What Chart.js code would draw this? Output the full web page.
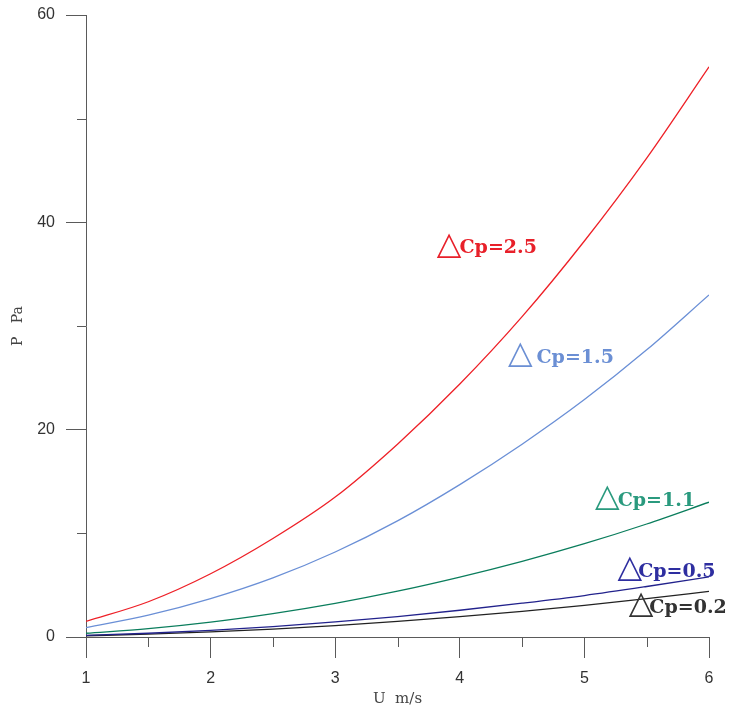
<!DOCTYPE html>
<html>
<head>
<meta charset="utf-8">
<script src="https://cdn.jsdelivr.net/npm/chart.js@4/dist/chart.umd.min.js"></script>
<style>
  html, body { margin: 0; padding: 0; background: #fff; }
  #wrap { width: 733px; height: 711px; }
</style>
</head>
<body>
<div id="wrap"><canvas id="pressureChart" width="733" height="711"></canvas></div>
<script>
// wind speed U (m/s)
var speeds = [1, 1.5, 2, 2.5, 3, 3.5, 4, 4.5, 5, 5.5, 6];

// pressure P (Pa) for each ΔCp curve
var cp25 = [1.5, 3.4, 6.1, 9.5, 13.5, 18.6, 24.4, 30.9, 38.2, 46.2, 55.0];
var cp15 = [0.9, 2.1, 3.7, 5.7, 8.2, 11.2, 14.7, 18.6, 22.9, 27.7, 33.0];
var cp11 = [0.36, 0.81, 1.44, 2.26, 3.25, 4.42, 5.78, 7.3, 9.0, 10.9, 13.0];
var cp05 = [0.16, 0.36, 0.64, 1.0, 1.45, 1.97, 2.58, 3.26, 4.0, 4.87, 5.8];
var cp02 = [0.12, 0.27, 0.49, 0.76, 1.1, 1.5, 1.96, 2.47, 3.05, 3.7, 4.4];

// curve labels and where they sit (data units)
var curveNames = ['Cp=2.5', 'Cp=1.5', 'Cp=1.1', 'Cp=0.5', 'Cp=0.2'];
var nameAtU    = [3.84, 4.41, 5.11, 5.29, 5.38];
var nameAtP    = [37.6, 27.0, 13.2, 6.4, 2.9];
var nameGap    = [0, 6, 0, -2, -2];

var yTicks = [0, 20, 40, 60];

var lineColors  = ['#ee2027', '#6a8fd6', '#0a7d5c', '#22228c', '#222222'];
var labelColors = ['#e8202a', '#6b8fd4', '#2a9a7e', '#2e2ea0', '#333333'];

function pts(vals) {
    return speeds.map(function (u, i) { return { x: u, y: vals[i] }; });
}

var axisColor = '#5a5a5a';

// short minor ticks halfway between the labelled ones
var minorTicks = {
    id: 'minorTicks',
    afterDraw: function (chart) {
        var c = chart.ctx, xs = chart.scales.x, ys = chart.scales.y;
        c.save();
        c.strokeStyle = axisColor;
        c.lineWidth = 1;
        c.beginPath();
        for (var u = 1.5; u < 6; u += 1) {
            var px = Math.round(xs.getPixelForValue(u)) + 0.5;
            c.moveTo(px, ys.bottom);
            c.lineTo(px, ys.bottom + 10);
        }
        for (var p = 10; p < 60; p += 20) {
            var py = Math.round(ys.getPixelForValue(p)) + 0.5;
            c.moveTo(xs.left - 9, py);
            c.lineTo(xs.left, py);
        }
        c.stroke();
        c.restore();
    }
};

var curveLabels = {
    id: 'curveLabels',
    afterDatasetsDraw: function (chart) {
        var c = chart.ctx, xs = chart.scales.x, ys = chart.scales.y;
        c.save();
        c.textBaseline = 'middle';
        c.textAlign = 'left';
        curveNames.forEach(function (name, i) {
            var px = xs.getPixelForValue(nameAtU[i]);
            var py = ys.getPixelForValue(nameAtP[i]);
            c.fillStyle = labelColors[i];
            c.font = '32px "DejaVu Sans"';
            c.fillText('\u25B3', px - 3, py - 2);
            var w = c.measureText('\u25B3').width;
            c.font = 'bold 19px "DejaVu Serif"';
            c.fillText(name, px + w - 5 + nameGap[i], py + 1);
        });
        c.restore();
    }
};

new Chart(document.getElementById('pressureChart'), {
    type: 'line',
    data: {
        datasets: [cp25, cp15, cp11, cp05, cp02].map(function (vals, i) {
            return {
                label: curveNames[i],
                data: pts(vals),
                borderColor: lineColors[i],
                borderWidth: 1.3,
                pointRadius: 0,
                fill: false,
                cubicInterpolationMode: 'monotone'
            };
        })
    },
    options: {
        responsive: false,
        animation: false,
        layout: { padding: { top: 15, right: 24, left: 10, bottom: 0 } },
        plugins: {
            legend: { display: false },
            tooltip: { enabled: false }
        },
        scales: {
            x: {
                type: 'linear',
                min: 1,
                max: 6,
                afterFit: function (s) { s.height = 74; },
                border: { color: axisColor, width: 1 },
                grid: {
                    drawOnChartArea: false,
                    tickLength: 21,
                    tickColor: axisColor
                },
                ticks: {
                    stepSize: 1,
                    color: '#333',
                    padding: 11,
                    font: { family: '"Liberation Sans"', size: 16 }
                },
                title: {
                    display: true,
                    text: 'U  m/s',
                    color: '#444',
                    padding: { top: 0, bottom: 3 },
                    font: { family: '"DejaVu Serif"', size: 15 }
                }
            },
            y: {
                min: 0,
                max: 60,
                afterFit: function (s) {
                    s.width = 76;
                    s.paddingTop = 0;
                    s.paddingBottom = 0;
                },
                afterBuildTicks: function (s) {
                    s.ticks = yTicks.map(function (v) { return { value: v }; });
                },
                border: { color: axisColor, width: 1 },
                grid: {
                    drawOnChartArea: false,
                    tickLength: 20,
                    tickColor: axisColor
                },
                ticks: {
                    color: '#333',
                    padding: 11,
                    font: { family: '"Liberation Sans"', size: 16 }
                },
                title: {
                    display: true,
                    text: 'P   Pa',
                    color: '#444',
                    padding: { top: 0, bottom: 0 },
                    font: { family: '"DejaVu Serif"', size: 14 }
                }
            }
        }
    },
    plugins: [minorTicks, curveLabels]
});
</script>
</body>
</html>
